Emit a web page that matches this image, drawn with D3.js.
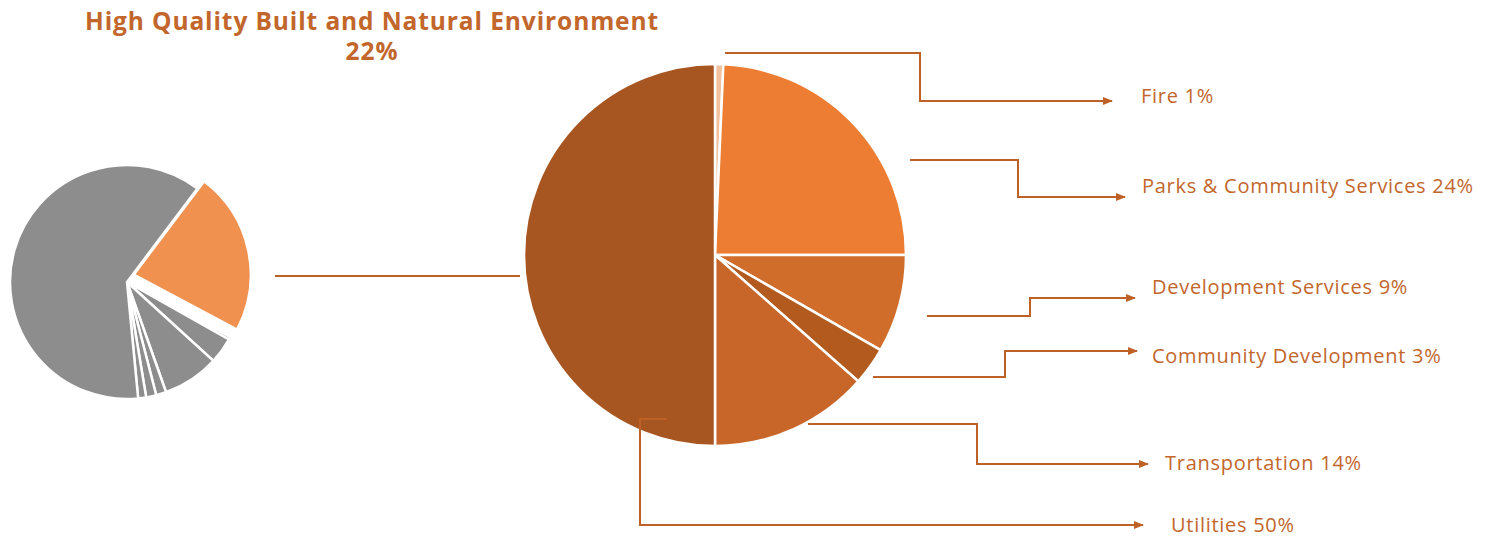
<!DOCTYPE html>
<html>
<head>
<meta charset="utf-8">
<script src="https://cdn.jsdelivr.net/npm/d3@7"></script>
<style>
  html, body { margin: 0; padding: 0; background: #fff; }
  svg { display: block; }
</style>
</head>
<body>
<svg id="chart" width="1491" height="539"></svg>
<script>
// ---- data ----
const titleLines = ["High Quality Built and Natural Environment", "22%"];
const overviewLabels = ["High Quality Built and Natural Environment", "Other A", "Other B", "Other C", "Other D", "Other E", "Other F", "Other G"];
const overviewValues = [22.5, 0.4, 3.6, 7.8, 1.4, 1.4, 1.1, 61.8];
const categories = ["Fire", "Parks & Community Services", "Development Services", "Community Development", "Transportation", "Utilities"];
const values = [0.7, 24.3, 8.3, 3.2, 13.5, 50];
const percentLabels = ["1%", "24%", "9%", "3%", "14%", "50%"];

// ---- styles ----
const detailColors = ["#f3c09e", "#ec7d33", "#d06d2a", "#b35a1f", "#c8662a", "#a85621"];
const textColor = "#c2662c";
const lineColor = "#bd6127";
const svg = d3.select("#chart");
const deg = Math.PI / 180;

// ---- title ----
const title = svg.append("text")
  .attr("x", 372).attr("y", 30)
  .attr("text-anchor", "middle")
  .attr("font-family", "'Open Sans', sans-serif")
  .attr("font-weight", 700)
  .attr("font-size", 24.5)
  .attr("letter-spacing", 0.9)
  .attr("fill", textColor);
title.append("tspan").attr("x", 372).attr("dy", 0).text(titleLines[0]);
title.append("tspan").attr("x", 372).attr("dy", 30).text(titleLines[1]);

// ---- left overview pie ----
const leftG = svg.append("g").attr("transform", "translate(127,282)");
const leftPie = d3.pie().sort(null).startAngle(37 * deg).endAngle(397 * deg);
const leftArc = d3.arc().innerRadius(0).outerRadius(117);
leftG.selectAll("path")
  .data(leftPie(overviewValues))
  .join("path")
  .attr("d", leftArc)
  .attr("transform", (d, i) => {
    if (i !== 0) return null;
    const m = (d.startAngle + d.endAngle) / 2 - 35 * deg;
    return `translate(${Math.sin(m) * 10},${-Math.cos(m) * 10})`;
  })
  .attr("fill", (d, i) => i === 0 ? "#f0914f" : "#8d8d8d")
  .attr("stroke", "#fff")
  .attr("stroke-width", 2.5);

// connector between pies
svg.append("line")
  .attr("x1", 275).attr("x2", 520).attr("y1", 276).attr("y2", 276)
  .attr("stroke", lineColor).attr("stroke-width", 2);

// ---- detail pie ----
const cx = 715, cy = 255, R = 191;
const mainG = svg.append("g").attr("transform", `translate(${cx},${cy})`);
const pie = d3.pie().sort(null);
const arc = d3.arc().innerRadius(0).outerRadius(R);
mainG.selectAll("path")
  .data(pie(values))
  .join("path")
  .attr("d", arc)
  .attr("fill", (d, i) => detailColors[i])
  .attr("stroke", "#fff")
  .attr("stroke-width", 2.5);

// ---- connectors with arrows ----
const defs = svg.append("defs");
defs.append("marker")
  .attr("id", "arrow")
  .attr("viewBox", "0 0 10 10")
  .attr("refX", 9).attr("refY", 5)
  .attr("markerWidth", 5).attr("markerHeight", 5)
  .attr("markerUnits", "strokeWidth")
  .attr("orient", "auto")
  .append("path").attr("d", "M0,1 L10,5 L0,9 Z").attr("fill", lineColor);

const connectors = [
  [[725, 53], [920, 53], [920, 101], [1112, 101]],
  [[910, 160], [1018, 160], [1018, 197], [1125, 197]],
  [[927, 316], [1030, 316], [1030, 298], [1135, 298]],
  [[873, 377], [1005, 377], [1005, 351], [1137, 351]],
  [[808, 424], [977, 424], [977, 464], [1148, 464]],
  [[667, 419], [640, 419], [640, 525], [1143, 525]]
];
const labelPos = [[1141, 96], [1142, 186], [1152, 287], [1152, 356], [1165, 463], [1171, 525]];
const line = d3.line();
svg.selectAll("path.conn")
  .data(connectors)
  .join("path")
  .attr("class", "conn")
  .attr("d", line)
  .attr("fill", "none")
  .attr("stroke", lineColor)
  .attr("stroke-width", 2)
  .attr("marker-end", "url(#arrow)");

svg.selectAll("text.lbl")
  .data(categories)
  .join("text")
  .attr("class", "lbl")
  .attr("x", (d, i) => labelPos[i][0])
  .attr("y", (d, i) => labelPos[i][1])
  .attr("dy", "0.35em")
  .attr("font-family", "'Open Sans', sans-serif")
  .attr("font-size", 20)
  .attr("letter-spacing", 0.72)
  .attr("fill", textColor)
  .text((d, i) => `${d} ${percentLabels[i]}`);
</script>
</body>
</html>
